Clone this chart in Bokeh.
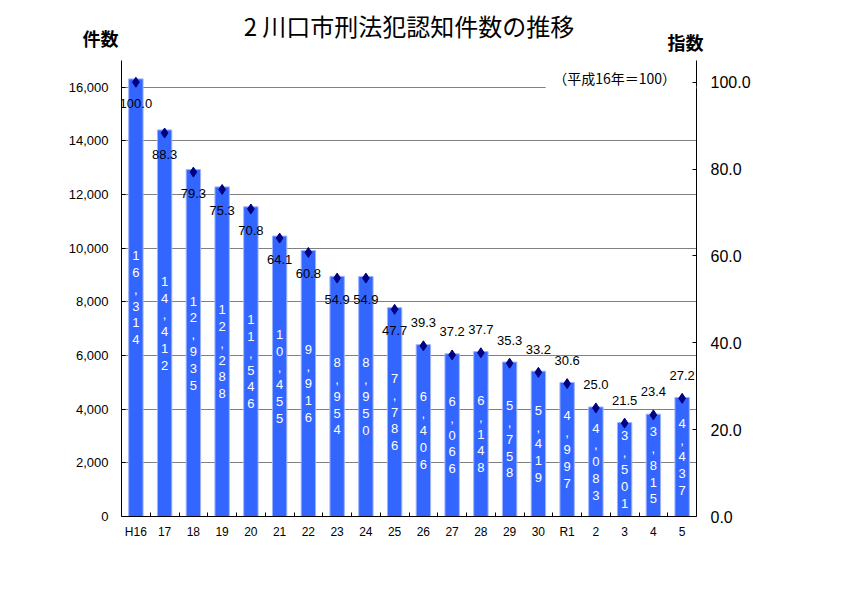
from bokeh.plotting import figure
from bokeh.layouts import column
from bokeh.models import Range1d, LinearAxis, FixedTicker, Label, BoxAnnotation, NumeralTickFormatter
from bokeh.core.properties import value
from bokeh.embed import file_html
from bokeh.resources import INLINE

years = ["H16", "17", "18", "19", "20", "21", "22", "23", "24", "25",
         "26", "27", "28", "29", "30", "R1", "2", "3", "4", "5"]
counts = [16314, 14412, 12935, 12288, 11546, 10455, 9916, 8954, 8950, 7786,
          6406, 6066, 6148, 5758, 5419, 4997, 4083, 3501, 3815, 4437]
index_vals = [100.0, 88.3, 79.3, 75.3, 70.8, 64.1, 60.8, 54.9, 54.9, 47.7,
              39.3, 37.2, 37.7, 35.3, 33.2, 30.6, 25.0, 21.5, 23.4, 27.2]
left_ticks = [0, 2000, 4000, 6000, 8000, 10000, 12000, 14000, 16000]
right_ticks = [0, 20, 40, 60, 80, 100]

title_text = "2 川口市刑法犯認知件数の推移"
left_title = "件数"
right_title = "指数"
note_text = "（平成16年＝100）"

NUM_FONT = "Liberation Sans"
JP_FONT = "Noto Sans CJK JP"

n = len(years)
xs = list(range(n))
YMAX = 17000
IMAX = 105

W = 839
HEAD_H = 60
CH = 536
FH = 456
ML, MR, MB = 121, 143, 80

# ---------- header (titles) ----------
head = figure(width=W, height=HEAD_H, x_range=Range1d(ML, W - MR), y_range=Range1d(0, HEAD_H),
              x_axis_type=None, y_axis_type=None,
              min_border_left=ML, min_border_right=MR, min_border_top=0, min_border_bottom=0,
              output_backend="svg", toolbar_location=None)
head.outline_line_color = None
frame_mid = ML + (W - ML - MR) / 2
head.text(x=[frame_mid], y=[HEAD_H - 25], text=[title_text], text_align="center",
          text_baseline="middle", text_font=value(JP_FONT), text_font_size="24px",
          text_color="black")

def corner_axis(tick_y, label, standoff):
    ax = LinearAxis(ticker=FixedTicker(ticks=[tick_y]),
                    major_label_overrides={tick_y: label})
    ax.axis_line_color = None
    ax.major_tick_line_color = None
    ax.minor_tick_line_color = None
    ax.major_tick_in = 0
    ax.major_tick_out = 0
    ax.major_label_standoff = standoff
    ax.major_label_text_font = JP_FONT
    ax.major_label_text_font_size = "18px"
    ax.major_label_text_font_style = "bold"
    ax.major_label_text_color = "black"
    return ax

head.add_layout(corner_axis(HEAD_H - 37, left_title, 3), "left")
head.add_layout(corner_axis(HEAD_H - 41, right_title, -29), "right")

# ---------- chart ----------
p = figure(width=W, height=CH, x_range=Range1d(-0.5, n - 0.5), y_range=Range1d(0, YMAX),
           output_backend="svg", toolbar_location=None,
           min_border_left=ML, min_border_right=MR, min_border_top=0, min_border_bottom=MB)
p.outline_line_color = None
p.extra_y_ranges = {"idx": Range1d(0, IMAX)}

# grid
p.xgrid.grid_line_color = None
p.ygrid.ticker = FixedTicker(ticks=left_ticks[1:])
p.ygrid.grid_line_color = "#808080"
p.ygrid.grid_line_width = 1

# left axis
la = p.yaxis[0]
la.ticker = FixedTicker(ticks=left_ticks)
la.formatter = NumeralTickFormatter(format="0,0")
la.major_tick_in = 4
la.major_tick_out = 0
la.minor_tick_line_color = None
la.axis_line_color = "black"
la.major_tick_line_color = "black"
la.major_label_standoff = 13
la.major_label_text_font = NUM_FONT
la.major_label_text_font_size = "13px"
la.major_label_text_color = "black"

# bottom axis
ba = p.xaxis[0]
ba.ticker = FixedTicker(ticks=xs, minor_ticks=[i + 0.5 for i in range(n - 1)])
ba.major_label_overrides = {i: years[i] for i in xs}
ba.major_tick_line_color = None
ba.minor_tick_in = 4
ba.minor_tick_out = 0
ba.minor_tick_line_color = "black"
ba.axis_line_color = "black"
ba.major_label_standoff = 2
ba.major_label_text_font = NUM_FONT
ba.major_label_text_font_size = "12px"
ba.major_label_text_color = "black"

# right axis
ra = LinearAxis(y_range_name="idx", ticker=FixedTicker(ticks=right_ticks),
                formatter=NumeralTickFormatter(format="0.0"))
ra.major_tick_in = 4
ra.major_tick_out = 0
ra.minor_tick_line_color = None
ra.axis_line_color = "black"
ra.major_tick_line_color = "black"
ra.major_label_standoff = 14
ra.major_label_text_font = NUM_FONT
ra.major_label_text_font_size = "16px"
ra.major_label_text_color = "black"
p.add_layout(ra, "right")

# bars
p.vbar(x=xs, top=counts, width=0.5, fill_color="#3366FF", line_color="#9DB3FF", line_width=1)

# vertical count labels
count_text = ["\n".join(f"{c:,}") for c in counts]
p.text(x=xs, y=[c / 2 for c in counts], text=count_text, text_align="center",
       text_baseline="middle", text_color="white", text_font=value(NUM_FONT),
       text_font_size="13px", text_line_height=1.12)

# index markers
p.scatter(x=xs, y=index_vals, y_range_name="idx", marker="diamond", size=10,
          fill_color="#000080", line_color="#000080")

# index labels
offs = [21 if v >= 45 else -23 for v in index_vals]
p.text(x=xs, y=index_vals, y_range_name="idx", text=[f"{v:.1f}" for v in index_vals],
       y_offset=offs, text_align="center", text_baseline="middle", text_color="black",
       text_font=value(NUM_FONT), text_font_size="13px")

# hide gridline behind note
p.add_layout(BoxAnnotation(left=14.25, right=n - 0.5, bottom=15960, top=16040,
                           fill_color="white", fill_alpha=1, line_color=None))

ppy = YMAX / FH
p.add_layout(Label(x=16.65, y=YMAX - 17 * ppy, text=note_text, text_align="center",
                   text_baseline="middle", text_font=JP_FONT, text_font_size="14px",
                   text_color="black"))

layout = column(head, p, spacing=0)
open("out.html", "w").write(file_html(layout, INLINE))
